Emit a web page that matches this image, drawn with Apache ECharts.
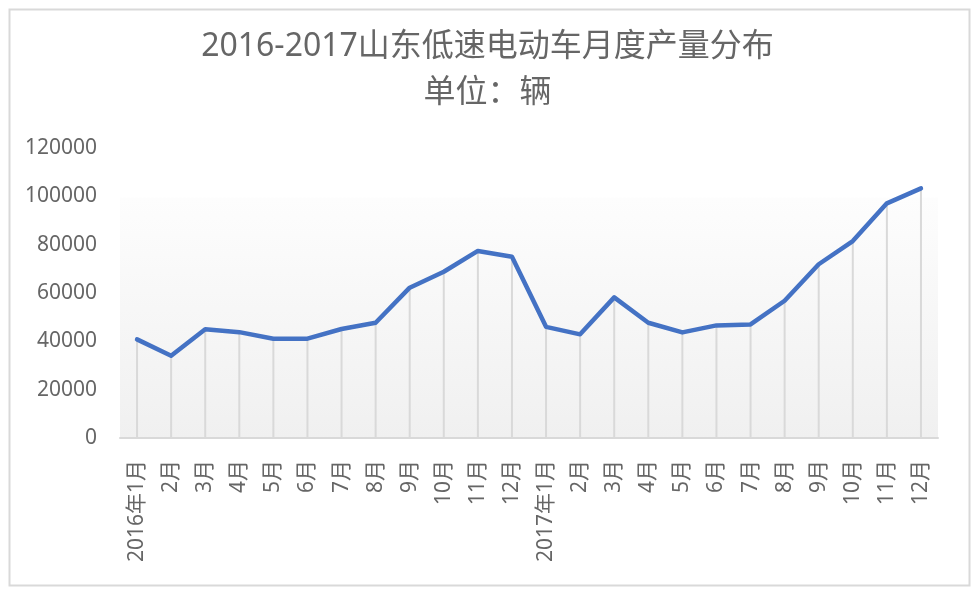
<!DOCTYPE html>
<html>
<head>
<meta charset="utf-8">
<script src="https://cdn.jsdelivr.net/npm/echarts@6/dist/echarts.min.js"></script>
<style>
html,body{margin:0;padding:0;background:#fff;}
#c{width:975px;height:595px;}
</style>
</head>
<body>
<div id="c"></div>
<script>
const titleText = '2016-2017山东低速电动车月度产量分布';
const subtitleText = '单位：辆';
const categories = ['2016年1月','2月','3月','4月','5月','6月','7月','8月','9月','10月','11月','12月',
  '2017年1月','2月','3月','4月','5月','6月','7月','8月','9月','10月','11月','12月'];
const production = [40800, 34000, 45000, 43800, 41100, 41100, 45100, 47700, 62200, 68800, 77400, 75000,
  46000, 42900, 58200, 47700, 43700, 46600, 47000, 56800, 71900, 81500, 97100, 103300];
const yTicks = { min: 0, max: 120000, interval: 20000 };

const chart = echarts.init(document.getElementById('c'), null, {renderer:'canvas'});
const txt = '#666666';
const font = '"Noto Sans", "Noto Sans CJK SC", sans-serif';
chart.setOption({
  animation: false,
  backgroundColor: '#ffffff',
  graphic: [{
    type: 'rect', left: 7, top: 7,
    shape: { width: 960, height: 576 },
    style: { fill: 'none', stroke: '#d9d9d9', lineWidth: 2 },
    z: -10
  }],
  title: [
    { text: titleText, left: 'center', top: 31, padding: 0,
      textStyle: { color: txt, fontSize: 32, fontWeight: 'normal', fontFamily: font } },
    { text: subtitleText, left: 'center', top: 77, padding: 0,
      textStyle: { color: txt, fontSize: 32, fontWeight: 'normal', fontFamily: font } }
  ],
  grid: {
    left: 120, right: 37, top: 148, bottom: 157,
    show: true, borderWidth: 0,
    backgroundColor: new echarts.graphic.LinearGradient(0, 0, 0, 1, [
      { offset: 0, color: '#ffffff' },
      { offset: 0.17, color: '#ffffff' },
      { offset: 0.172, color: '#fdfdfd' },
      { offset: 1, color: '#f0f0f0' }
    ])
  },
  xAxis: {
    type: 'category',
    data: categories,
    boundaryGap: true,
    axisLine: { show: true, lineStyle: { color: '#d9d9d9', width: 2 } },
    axisTick: { show: false },
    axisLabel: { rotate: 90, color: txt, fontSize: 21, fontFamily: font, margin: 22, interval: 0 },
    splitLine: { show: false }
  },
  yAxis: {
    type: 'value',
    min: yTicks.min, max: yTicks.max, interval: yTicks.interval,
    axisLine: { show: false },
    axisTick: { show: false },
    splitLine: { show: false },
    axisLabel: { color: txt, fontSize: 21, fontFamily: font, margin: 23,
      formatter: function (v) { return String(v); } }
  },
  series: [
    {
      type: 'bar', data: production, barWidth: 2,
      itemStyle: { color: '#d9d9d9' }, z: 1, silent: true
    },
    {
      type: 'line', data: production, symbol: 'none',
      lineStyle: { color: '#4472c4', width: 4.5, join: 'round', cap: 'round' },
      z: 5
    }
  ]
});
</script>
</body>
</html>
